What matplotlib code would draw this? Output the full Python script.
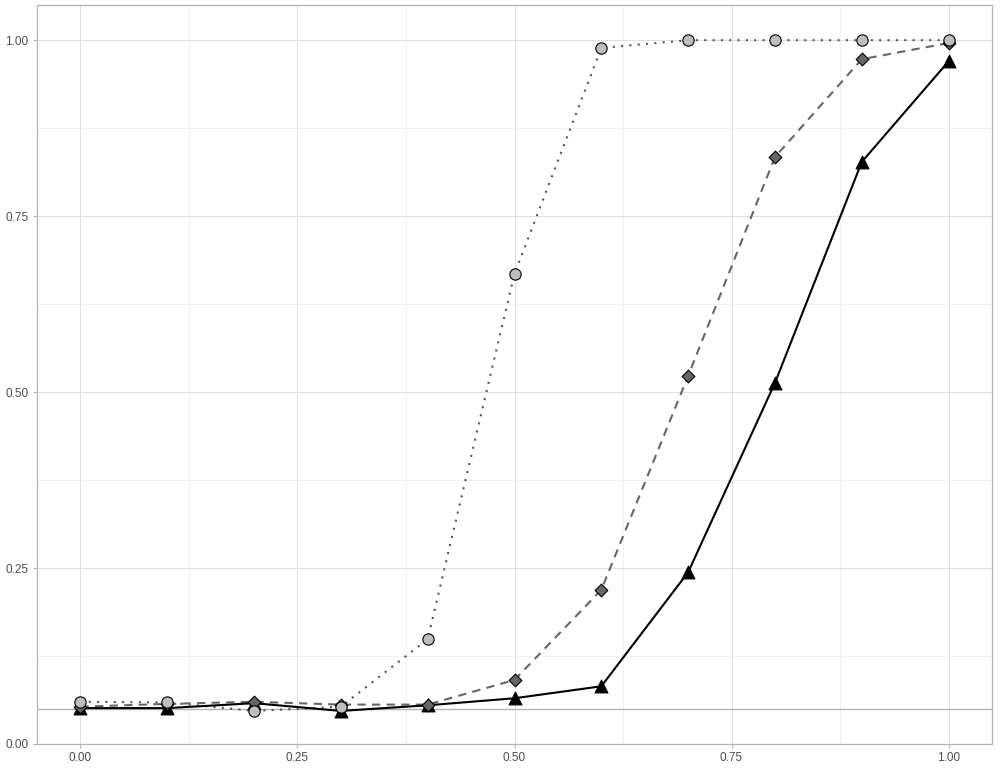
import matplotlib
matplotlib.use("Agg")
import matplotlib.pyplot as plt
from matplotlib.ticker import FixedLocator

x = [0.0, 0.1, 0.2, 0.3, 0.4, 0.5, 0.6, 0.7, 0.8, 0.9, 1.0]
circle_vals = [0.060, 0.059, 0.047, 0.053, 0.149, 0.668, 0.989, 1.000, 1.000, 1.000, 1.000]
diamond_vals = [0.053, 0.057, 0.060, 0.056, 0.056, 0.091, 0.219, 0.523, 0.834, 0.973, 0.996]
triangle_vals = [0.051, 0.051, 0.058, 0.047, 0.055, 0.065, 0.082, 0.244, 0.513, 0.827, 0.970]
ref_level = 0.05
tick_vals = [0.0, 0.25, 0.5, 0.75, 1.0]
tick_labels = ["0.00", "0.25", "0.50", "0.75", "1.00"]

plt.rcParams['font.family'] = ['Liberation Sans', 'DejaVu Sans']

fig = plt.figure(figsize=(10, 7.7), dpi=100)
ax = fig.add_axes([0.037, 1 - 744 / 770, 0.955, (744 - 5) / 770])

ax.set_xlim(-0.05, 1.05)
ax.set_ylim(0, 1.05)

ax.xaxis.set_major_locator(FixedLocator(tick_vals))
ax.yaxis.set_major_locator(FixedLocator(tick_vals))
ax.set_xticklabels(tick_labels)
ax.set_yticklabels(tick_labels)
ax.xaxis.set_minor_locator(FixedLocator([0.125, 0.375, 0.625, 0.875]))
ax.yaxis.set_minor_locator(FixedLocator([0.125, 0.375, 0.625, 0.875]))
ax.grid(which="major", color="#dedede", linewidth=0.7)
ax.grid(which="minor", color="#ececec", linewidth=0.5)
ax.set_axisbelow(True)
for s in ax.spines.values():
    s.set_color("#b3b3b3")
    s.set_linewidth(0.9)
ax.tick_params(which="major", length=3, color="#b3b3b3", labelsize=8.5, labelcolor="#4d4d4d", pad=3)
ax.tick_params(which="minor", length=0)

ax.axhline(ref_level, color="#b3b3b3", linewidth=1.0, zorder=1)

ax.plot(x, circle_vals, linestyle=(0, (1, 3)), color="#555555", linewidth=1.5, zorder=2)
ax.plot(x, diamond_vals, linestyle=(0, (4, 3)), color="#666666", linewidth=1.5, zorder=2)
ax.plot(x, triangle_vals, linestyle="-", color="black", linewidth=1.5, zorder=2)

ax.scatter(x, triangle_vals, marker="^", s=85, facecolor="black", edgecolor="black", linewidth=0.8, zorder=3)
ax.scatter(x, diamond_vals, marker="D", s=42, facecolor="#666666", edgecolor="black", linewidth=0.8, zorder=4)
ax.scatter(x, circle_vals, marker="o", s=66, facecolor="#bebebe", edgecolor="black", linewidth=0.8, zorder=5)

fig.savefig("out.png", dpi=100)
